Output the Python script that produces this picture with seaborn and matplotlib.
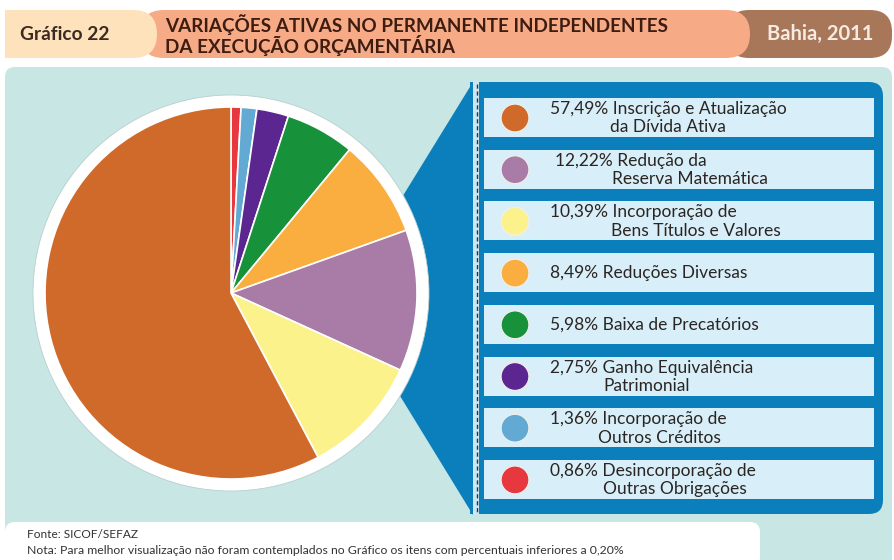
import numpy as np
import matplotlib.pyplot as plt
import seaborn as sns
from matplotlib.patches import FancyBboxPatch, Rectangle, Polygon, Circle

# =============================================================
# DATA (legend order)
# =============================================================
values = [57.49, 12.22, 10.39, 8.49, 5.98, 2.75, 1.36, 0.86]
names_1 = ['Inscrição e Atualização', 'Redução da', 'Incorporação de',
           'Reduções Diversas', 'Baixa de Precatórios', 'Ganho Equivalência',
           'Incorporação de', 'Desincorporação de']
names_2 = ['da Dívida Ativa', 'Reserva Matemática', 'Bens Títulos e Valores',
           '', '', 'Patrimonial', 'Outros Créditos', 'Outras Obrigações']
colors = ['#d06a2b', '#a97ba7', '#fbf28c', '#f9ae3f',
          '#17923b', '#5b2690', '#62a9d3', '#e6383e']
# slice order clockwise from the top
pie_order = [7, 6, 5, 4, 3, 1, 2, 0]

title_1 = 'VARIAÇÕES ATIVAS NO PERMANENTE INDEPENDENTES'
title_2 = 'DA EXECUÇÃO ORÇAMENTÁRIA'
source = 'Fonte: SICOF/SEFAZ'
note = ('Nota: Para melhor visualização não foram contemplados no Gráfico '
        'os itens com percentuais inferiores a 0,20%')

# =============================================================
# STYLE
# =============================================================
sns.set_theme(style='white')
palette = sns.color_palette(colors)
plt.rcParams['font.family'] = ['Lato', 'DejaVu Sans']

TEAL  = '#c7e6e4'
BLUE  = '#0a7fbb'
BOX   = '#d8eef8'
INK   = '#2a2522'

W, H = 894, 560
fig = plt.figure(figsize=(W / 100, H / 100), dpi=100)
fig.patch.set_facecolor('white')

bg = fig.add_axes([0, 0, 1, 1])
bg.set_xlim(0, W)
bg.set_ylim(H, 0)
bg.axis('off')

# ---- header
bg.add_patch(FancyBboxPatch((727, 10), 165, 48, boxstyle='round,pad=0,rounding_size=22',
                            fc='#a87759', ec='none'))
bg.add_patch(FancyBboxPatch((140, 10), 610, 48, boxstyle='round,pad=0,rounding_size=24',
                            fc='#f6aa85', ec='none'))
bg.add_patch(FancyBboxPatch((5, 10), 152, 48, boxstyle='round,pad=0,rounding_size=24',
                            fc='#fde2bc', ec='none'))
bg.add_patch(Rectangle((5, 10), 30, 48, fc='#fde2bc', ec='none'))
bg.text(20, 35, 'Gráfico 22', fontsize=13.8, fontweight='bold', color='#3b2a22',
        va='center', ha='left')
bg.text(165, 25, title_1, fontsize=13.6, fontweight='bold', color='#3d1d12',
        va='center', ha='left')
bg.text(165, 45, title_2, fontsize=13.6, fontweight='bold', color='#3d1d12',
        va='center', ha='left')
bg.text(820, 34, 'Bahia, 2011', fontsize=14.5, fontweight='bold', color='#f6ebe2',
        va='center', ha='center')

# ---- chart area
bg.add_patch(FancyBboxPatch((5, 67), 887, 500, boxstyle='round,pad=0,rounding_size=10',
                            fc=TEAL, ec='none'))

# ---- blue legend panel
bg.add_patch(Polygon([(473, 82), (340, 298), (473, 515)], closed=True, fc=BLUE, ec='none'))
bg.add_patch(FancyBboxPatch((470, 82), 413, 432, boxstyle='round,pad=0,rounding_size=14',
                            fc=BLUE, ec='none'))
bg.add_patch(Rectangle((470, 82), 20, 432, fc=BLUE, ec='none'))
bg.add_patch(Rectangle((473, 82), 6, 433, fc='#cde7f2', ec='none'))
bg.plot([476.5, 476.5], [84, 513], color='#1d3557', lw=1, ls=(0, (3, 2)))

# ---- legend rows
indent = [60, 62, 61, 0, 0, 53, 48, 53]
row_top = 98 + np.arange(len(values)) * 51.7
for i, top in enumerate(row_top):
    bg.add_patch(Rectangle((484, top), 390, 39, fc=BOX, ec='none'))
    pct = f'{values[i]:.2f}%'.replace('.', ',')
    x1 = 555 if i == 1 else 550
    if names_2[i]:
        bg.text(x1, top + 11, f'{pct} {names_1[i]}', fontsize=12.5, color=INK,
                va='center', ha='left')
        bg.text(550 + indent[i], top + 29.5, names_2[i], fontsize=12.5, color=INK,
                va='center', ha='left')
    else:
        bg.text(x1, top + 20, f'{pct} {names_1[i]}', fontsize=12.5, color=INK,
                va='center', ha='left')
bg.scatter(np.full(len(values), 515), row_top + 20, s=400, c=palette,
           edgecolors='#f3f0ea', linewidths=0.8, zorder=3)

# ---- footer
bg.add_patch(FancyBboxPatch((5, 522), 755, 45, boxstyle='round,pad=0,rounding_size=10',
                            fc='white', ec='none'))
bg.text(27, 534, source, fontsize=8.6, color='#333333', va='center', ha='left')
bg.text(27, 550, note, fontsize=8.8, color='#333333', va='center', ha='left')

# ---- pie
CX, CY, R, RW = 231, 293, 186, 202
pax = fig.add_axes([(CX - RW) / W, (H - CY - RW) / H, 2 * RW / W, 2 * RW / H])
pax.add_patch(Circle((0, 0), 198 / R, fc='white', ec='#b9cfcd', lw=0.6))
pax.pie([values[k] for k in pie_order],
        colors=[palette[k] for k in pie_order],
        startangle=90, counterclock=False, radius=1,
        wedgeprops={'edgecolor': 'white', 'linewidth': 1.2})
pax.set_xlim(-RW / R, RW / R)
pax.set_ylim(-RW / R, RW / R)
pax.set_aspect('auto')
pax.axis('off')

plt.savefig('out.png', dpi=100)
